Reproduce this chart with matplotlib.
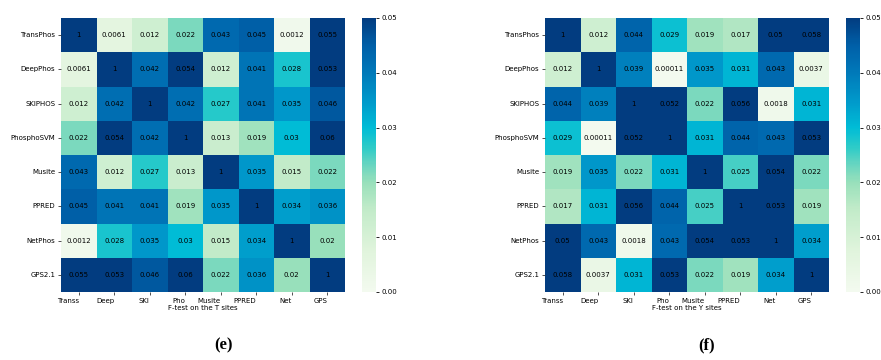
import numpy as np
import matplotlib
matplotlib.use("Agg")
import matplotlib.pyplot as plt
from matplotlib.colors import LinearSegmentedColormap
import seaborn as sns

row_labels = ["TransPhos", "DeepPhos", "SKIPHOS", "PhosphoSVM",
              "Musite", "PPRED", "NetPhos", "GPS2.1"]
col_labels = ["Transs", "Deep", "SKI", "Pho", "Musite", "PPRED", "Net", "GPS"]

t_sites = [
    [1, 0.0061, 0.012, 0.022, 0.043, 0.045, 0.0012, 0.055],
    [0.0061, 1, 0.042, 0.054, 0.012, 0.041, 0.028, 0.053],
    [0.012, 0.042, 1, 0.042, 0.027, 0.041, 0.035, 0.046],
    [0.022, 0.054, 0.042, 1, 0.013, 0.019, 0.03, 0.06],
    [0.043, 0.012, 0.027, 0.013, 1, 0.035, 0.015, 0.022],
    [0.045, 0.041, 0.041, 0.019, 0.035, 1, 0.034, 0.036],
    [0.0012, 0.028, 0.035, 0.03, 0.015, 0.034, 1, 0.02],
    [0.055, 0.053, 0.046, 0.06, 0.022, 0.036, 0.02, 1],
]

y_sites = [
    [1, 0.012, 0.044, 0.029, 0.019, 0.017, 0.05, 0.058],
    [0.012, 1, 0.039, 0.00011, 0.035, 0.031, 0.043, 0.0037],
    [0.044, 0.039, 1, 0.052, 0.022, 0.056, 0.0018, 0.031],
    [0.029, 0.00011, 0.052, 1, 0.031, 0.044, 0.043, 0.053],
    [0.019, 0.035, 0.022, 0.031, 1, 0.025, 0.054, 0.022],
    [0.017, 0.031, 0.056, 0.044, 0.025, 1, 0.053, 0.019],
    [0.05, 0.043, 0.0018, 0.043, 0.054, 0.053, 1, 0.034],
    [0.058, 0.0037, 0.031, 0.053, 0.022, 0.019, 0.034, 1],
]

panels = [
    (t_sites, "F-test on the T sites", "(e)"),
    (y_sites, "F-test on the Y sites", "(f)"),
]

# green -> cyan -> navy ramp
cmap = LinearSegmentedColormap.from_list("gcb", [
    (0.00, "#f3faef"),
    (0.15, "#e0f4dc"),
    (0.30, "#c2ebc9"),
    (0.40, "#98e0bb"),
    (0.46, "#6cd6c0"),
    (0.53, "#2ccbc8"),
    (0.60, "#00bcd6"),
    (0.70, "#0098ca"),
    (0.82, "#0074b6"),
    (0.90, "#0060a8"),
    (1.00, "#023c80"),
])

W, H = 881, 360
fig = plt.figure(figsize=(W / 100, H / 100), dpi=100)

lefts = [61, 545]
cbar_lefts = [362, 846]
for i, (vals, xlabel, tag) in enumerate(panels):
    ax = fig.add_axes([lefts[i] / W, 1 - 292 / H, 284 / W, 274 / H])
    cax = fig.add_axes([cbar_lefts[i] / W, 1 - 292 / H, 14 / W, 274 / H])
    sns.heatmap(np.array(vals), ax=ax, cbar_ax=cax, cmap=cmap,
                vmin=0, vmax=0.05, annot=True, fmt=".2g",
                annot_kws={"fontsize": 5, "color": "black"},
                xticklabels=col_labels, yticklabels=row_labels)
    ax.set_xticklabels(col_labels, rotation=0, ha="right", fontsize=5)
    ax.set_yticklabels(row_labels, rotation=0, fontsize=5)
    ax.tick_params(length=2.5, width=0.6, pad=1.5, color="#333333")
    ax.set_xlabel(xlabel, fontsize=5, labelpad=1)
    cax.tick_params(labelsize=5, length=2.5, width=0.6, pad=1.5)
    cax.set_yticks([0, 0.01, 0.02, 0.03, 0.04, 0.05])
    cax.set_yticklabels(["0.00", "0.01", "0.02", "0.03", "0.04", "0.05"])
    fig.text((lefts[i] + 162) / W, 1 - 345 / H, tag, ha="center", va="center",
             fontsize=12, fontweight="bold", family="Liberation Serif")

fig.savefig("out.png", dpi=100)
